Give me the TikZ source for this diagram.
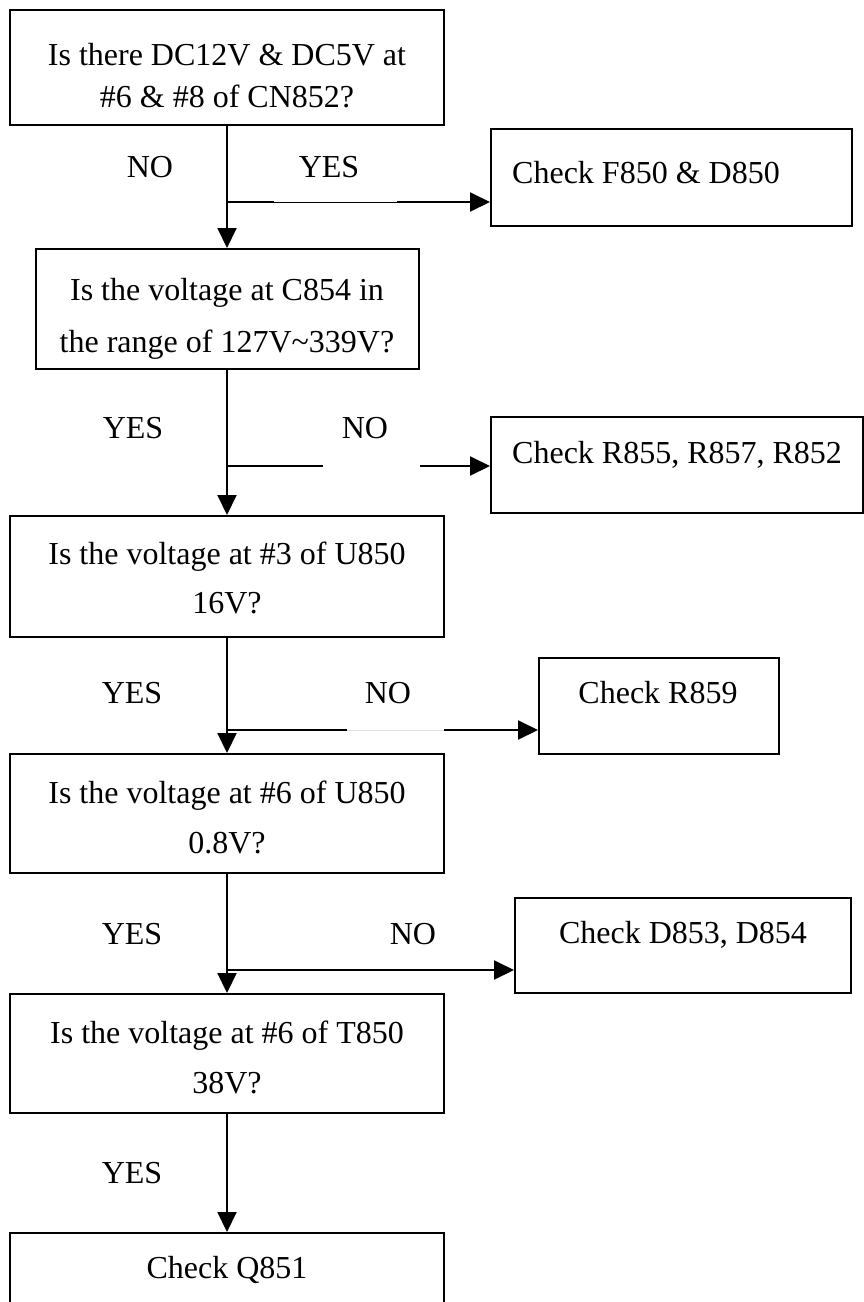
\documentclass[tikz,border=0pt]{standalone}
\usepackage{fontspec}
\setmainfont{Liberation Serif}
\usetikzlibrary{arrows.meta}

\begin{document}
\begin{tikzpicture}[x=1pt,y=-1pt,
    qbox/.style={draw,line width=2pt,inner sep=0pt,minimum width=434pt},
    cbox/.style={draw,line width=2pt,inner sep=0pt},
    qtext/.style={font=\fontsize{32}{#1}\selectfont,align=center,inner sep=0pt},
    ctext/.style={font=\fontsize{32}{38}\selectfont,inner sep=0pt},
    yn/.style={font=\fontsize{32}{38}\selectfont,inner sep=0pt},
    flow/.style={line width=2pt,-{Triangle[length=20pt,width=19pt]}},
    breakline/.style={white,line width=3pt}]
  \useasboundingbox (0,0) rectangle (864,1302);

  % questions down the left
  \node[qbox,minimum height=115pt] (q1) at (227,67.5) {};
  \node[qtext=42] (q1t) at (227,76) {Is there DC12V \& DC5V at\\\#6 \& \#8 of CN852?};
  \node[qbox,minimum width=383pt,minimum height=120pt] (q2) at (227,309) {};
  \node[qtext=52] (q2t) at (227,319) {Is the voltage at C854 in\\the range of 127V\textasciitilde339V?};
  \node[qbox,minimum height=121pt] (q3) at (227,576.5) {};
  \node[qtext=49] (q3t) at (227,577.5) {Is the voltage at \#3 of U850\\16V?};
  \node[qbox,minimum height=119pt] (q4) at (227,813.5) {};
  \node[qtext=50] (q4t) at (227,817) {Is the voltage at \#6 of U850\\0.8V?};
  \node[qbox,minimum height=119pt] (q5) at (227,1053.5) {};
  \node[qtext=50] (q5t) at (227,1057) {Is the voltage at \#6 of T850\\38V?};
  \node[qbox,minimum height=120pt] (q6) at (227,1293) {};
  \node[ctext] (q6t) at (227,1270) {Check Q851};

  % checks on the right
  \node[cbox,minimum width=361pt,minimum height=97pt] (c1) at (671.5,177.5) {};
  \node[ctext,anchor=west] (c1t) at (512,173) {Check F850 \& D850};
  \node[cbox,minimum width=372pt,minimum height=96pt] (c2) at (677,465) {};
  \node[ctext,anchor=west] (c2t) at (512,455) {Check R855, R857, R852};
  \node[cbox,minimum width=240pt,minimum height=96pt] (c3) at (659,706) {};
  \node[ctext] (c3t) at (658,693) {Check R859};
  \node[cbox,minimum width=336pt,minimum height=95pt] (c4) at (683,945.5) {};
  \node[ctext] (c4t) at (683,935) {Check D853, D854};

  % yes / no
  \node[yn] (n1) at (150,167) {NO};
  \node[yn] (y1) at (329,167) {YES};
  \node[yn] (y2) at (133,428) {YES};
  \node[yn] (n2) at (365,428) {NO};
  \node[yn] (y3) at (132,693) {YES};
  \node[yn] (n3) at (388,693) {NO};
  \node[yn] (y4) at (132,934) {YES};
  \node[yn] (n4) at (413,934) {NO};
  \node[yn] (y5) at (132,1173) {YES};

  \coordinate (j1) at (227,202);
  \coordinate (j2) at (227,466);
  \coordinate (j3) at (227,730);
  \coordinate (j4) at (227,970);

  \draw[flow] (q1) -- (q2);
  \draw[flow] (q2) -- (q3);
  \draw[flow] (q3) -- (q4);
  \draw[flow] (q4) -- (q5);
  \draw[flow] (q5) -- (q6);

  \draw[flow] (j1) -- (j1 -| c1.west);
  \draw[flow] (j2) -- (j2 -| c2.west);
  \draw[flow] (j3) -- (j3 -| c3.west);
  \draw[flow] (j4) -- (j4 -| c4.west);

  % broken bits of the side lines
  \draw[breakline] (274,202) -- (397,202);
  \draw[line width=0.7pt] (274,202) -- (397,202);
  \draw[breakline] (323,466) -- (420,466);
  \draw[breakline] (347,730) -- (444,730);
  \draw[black!12,line width=1pt] (347,730) -- (444,730);
\end{tikzpicture}
\end{document}
